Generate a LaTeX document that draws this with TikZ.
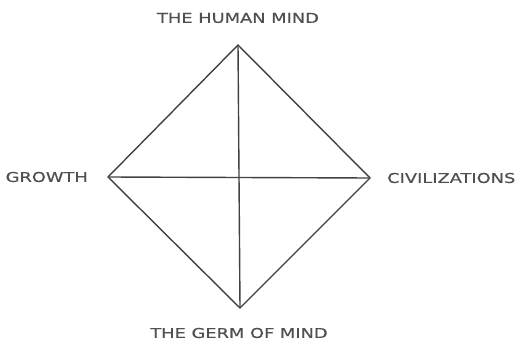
\documentclass[tikz,border=0pt]{standalone}
\usepackage{fontspec}
\setmainfont{DejaVu Sans}
\newfontfamily\widefont[FakeStretch=1.32,FakeBold=0.6]{DejaVu Sans}
\definecolor{ink}{RGB}{65,65,65}
\definecolor{txt}{RGB}{80,80,80}
\begin{document}
\begin{tikzpicture}[x=1pt,y=-1pt,
  edge/.style={draw=ink,line width=1.4pt},
  lbl/.style={text=txt,font=\widefont\fontsize{13.5}{15}\selectfont,inner sep=0pt}]
\useasboundingbox (0,0) rectangle (518,347);
\coordinate (T) at (238,45);
\coordinate (L) at (108,177);
\coordinate (R) at (370,178);
\coordinate (B) at (240,308);
\node[lbl] (tl) at (238,18) {THE HUMAN MIND};
\node[lbl,anchor=east] (ll) at (88,177) {GROWTH};
\node[lbl,anchor=west] (rl) at (387,178) {CIVILIZATIONS};
\node[lbl] (bl) at (239,333) {THE GERM OF MIND};
\draw[edge,line join=miter] (T) -- (R) -- (B) -- (L) -- cycle;
\draw[edge] (T) -- (B);
\draw[edge] (L) -- (R);
\end{tikzpicture}
\end{document}
